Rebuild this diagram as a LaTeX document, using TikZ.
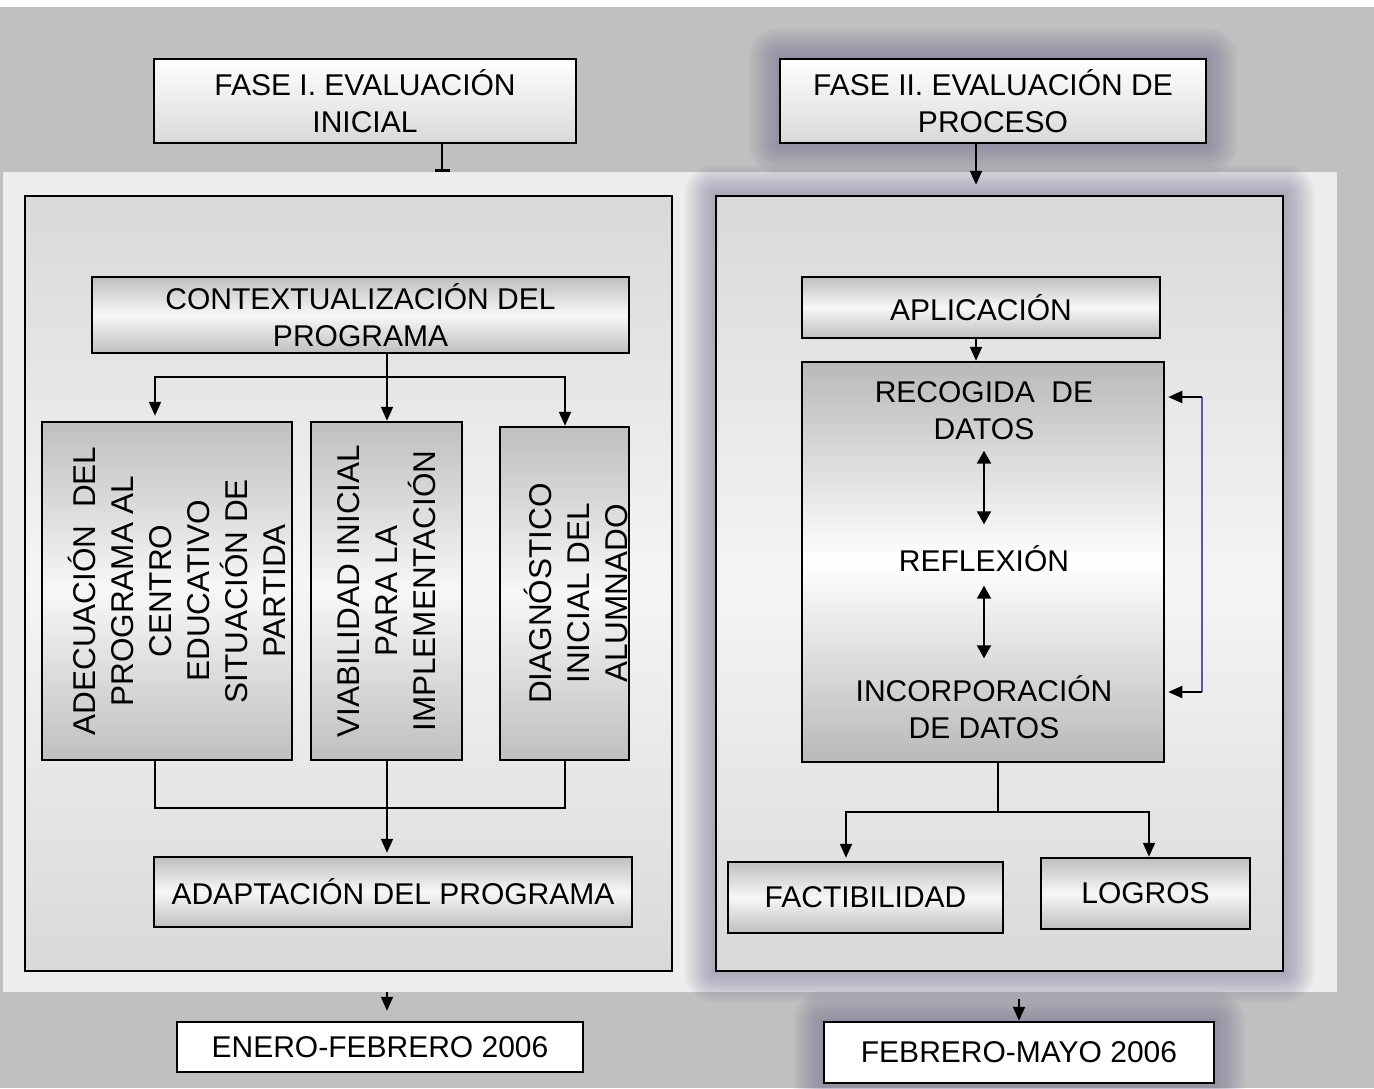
\documentclass[tikz,border=0pt]{standalone}
\usepackage{fontspec}
\setmainfont{Liberation Sans}
\usetikzlibrary{arrows.meta,positioning}
\pgfdeclarelayer{bg}
\pgfdeclarelayer{glow}
\pgfsetlayers{bg,glow,main}

\definecolor{pagegray}{RGB}{192,192,192}
\definecolor{panelgray}{RGB}{237,237,237}
\definecolor{glowcol}{RGB}{105,105,140}
\definecolor{loopblue}{RGB}{90,90,160}

\def\boxLine{2.5pt}
\def\linkLine{2pt}

\tikzset{
    hfont/.style = {font = \fontsize{30}{37}\selectfont},
    vfont/.style = {font = \fontsize{31.5}{38}\selectfont},
    frame/.style = {draw, line width = \boxLine, top color = gray!30,
        bottom color = gray!30, middle color = gray!8, inner sep = 0pt},
    phasebox/.style = {draw, line width = \boxLine, top color = white,
        bottom color = gray!30, hfont, align = center, inner sep = 0pt},
    datebox/.style = {draw, line width = \boxLine, fill = white, hfont,
        inner sep = 0pt},
    shadebox/.style = {draw, line width = \boxLine, top color = gray!50,
        bottom color = gray!50, middle color = gray!6, hfont,
        align = center, inner sep = 0pt},
    cyclebox/.style = {draw, line width = \boxLine, top color = gray!55,
        bottom color = gray!55, middle color = white, inner sep = 0pt},
    txt/.style = {hfont, align = center},
    vtxt/.style = {vfont, align = center, rotate = 90},
    link/.style = {line width = \linkLine},
    arr/.style = {link, -{Triangle[length = 14pt, width = 12pt]}},
    dblarr/.style = {link, {Triangle[length = 13pt, width = 14pt]}-{Triangle[length = 13pt, width = 14pt]}},
    bararr/.style = {link, -{Bar[width = 15pt, line width = 2.5pt]}},
}

\begin{document}
\begin{tikzpicture}[x = 1pt, y = -1pt]
    \useasboundingbox (0,0) rectangle (1374,1088);
    %% background
    \begin{pgfonlayer}{bg}
        \fill [pagegray] (0,0) rectangle (1374,1088);
        \fill [white] (0,0) rectangle (1374,7);
        \node [fill = panelgray, inner sep = 0pt, minimum width = 1334pt,
            minimum height = 820pt] (panel) at (670,582) {};
    \end{pgfonlayer}

    %% phase I
    \node [phasebox, minimum width = 422pt, minimum height = 84pt]
    (phase1) at (365,101) {FASE I. EVALUACIÓN\\INICIAL};
    \node [frame, minimum width = 647pt, minimum height = 775pt]
    (frameL) at (348.5,583.5) {};
    \node [shadebox, minimum width = 537pt, minimum height = 76pt]
    (context) at (360.5,315) {CONTEXTUALIZACIÓN DEL\\PROGRAMA};
    \node [shadebox, minimum width = 250pt, minimum height = 338pt]
    (adec) at (167,591) {};
    \node [shadebox, minimum width = 151pt, minimum height = 338pt]
    (viab) at (386.5,591) {};
    \node [shadebox, minimum width = 129pt, minimum height = 333pt]
    (diag) at (564.5,593.5) {};
    \node [vtxt] (adectxt) at ([xshift = 10pt]adec.center)
    {ADECUACIÓN\ \ DEL\\PROGRAMA AL\\CENTRO\\EDUCATIVO\\SITUACIÓN DE\\PARTIDA};
    \node [vtxt] (viabtxt) at (viab.center)
    {VIABILIDAD INICIAL\\PARA LA\\IMPLEMENTACIÓN};
    \node [vtxt] (diagtxt) at ([xshift = 11pt]diag.center)
    {DIAGNÓSTICO\\INICIAL DEL\\ALUMNADO};
    \node [shadebox, minimum width = 478pt, minimum height = 70pt]
    (adapt) at (393,892) {ADAPTACIÓN DEL PROGRAMA};
    \node [datebox, minimum width = 406pt, minimum height = 50pt]
    (date1) at (380,1047) {ENERO-FEBRERO 2006};

    %% phase II
    \node [phasebox, minimum width = 426pt, minimum height = 84pt]
    (phase2) at (993,101) {FASE II. EVALUACIÓN DE\\PROCESO};
    \node [frame, minimum width = 567pt, minimum height = 775pt]
    (frameR) at (999.5,583.5) {};
    \node [shadebox, minimum width = 358pt, minimum height = 61pt]
    (apply) at (981,307.5) {APLICACIÓN};
    \node [cyclebox, minimum width = 362pt, minimum height = 400pt]
    (cycle) at (983,562) {};
    \node [txt] (collect) at (984,411) {RECOGIDA\ \ DE\\DATOS};
    \node [txt] (reflect) at (984,559) {REFLEXIÓN};
    \node [txt] (incorp) at (984,707.5) {INCORPORACIÓN\\DE DATOS};
    \node [shadebox, minimum width = 275pt, minimum height = 71pt]
    (feasible) at (865.5,897.5) {FACTIBILIDAD};
    \node [shadebox, minimum width = 209pt, minimum height = 71pt]
    (achieve) at (1145.5,893.5) {LOGROS};
    \node [datebox, minimum width = 390pt, minimum height = 61pt]
    (date2) at (1019,1052.5) {FEBRERO-MAYO 2006};

    %% glow round phase II
    \begin{pgfonlayer}{glow}
        \foreach \g in {2.5,5,...,30} {
            \foreach \n in {phase2,frameR,date2} {
                \fill [glowcol, opacity = 0.05, rounded corners = \g pt]
                ([shift = {(-\g pt,\g pt)}]\n.north west)
                rectangle ([shift = {(\g pt,-\g pt)}]\n.south east);
            }
        }
    \end{pgfonlayer}

    %% taps
    \coordinate (tap1) at (442,0);
    \coordinate (tap2) at (976,0);
    \coordinate (colA) at (155,0);
    \coordinate (colC) at (565,0);
    \coordinate (colF) at (846,0);
    \coordinate (colL) at (1149,0);
    \coordinate (ctxsplit) at (387,377);
    \coordinate (adsplit) at (387,808);
    \coordinate (cysplit) at (998,812);
    \coordinate (fbtop) at (1202,397);
    \coordinate (fbbot) at (1202,692);

    %% left links
    \draw [bararr] (phase1.south -| tap1) -- (panel.north -| tap1);
    \draw [arr] (context.south -| ctxsplit) -- (viab.north -| ctxsplit);
    \draw [arr, shorten > = 5pt] (ctxsplit) -| (adec.north -| colA);
    \draw [arr] (ctxsplit) -| (diag.north -| colC);
    \draw [link] (adec.south -| colA) |- (adsplit);
    \draw [link] (diag.south -| colC) |- (adsplit);
    \draw [arr, shorten > = 3pt] (viab.south -| adsplit) -- (adapt.north -| adsplit);
    \draw [arr, shorten > = 10pt] (panel.south -| adsplit) -- (date1.north -| adsplit);

    %% right links
    \draw [arr, shorten > = 10pt] (phase2.south -| tap2) -- (frameR.north -| tap2);
    \draw [arr] (apply.south -| tap2) -- (cycle.north -| tap2);
    \draw [dblarr, shorten < = 7pt, shorten > = 18pt] (collect.south) -- (reflect.north);
    \draw [dblarr, shorten < = 10pt, shorten > = 14pt] (reflect.south) -- (incorp.north);
    \draw [loopblue, line width = 1.5pt] (fbtop) -- (fbbot);
    \draw [arr, shorten > = 3pt] (fbtop) -- (fbtop -| cycle.east);
    \draw [arr, shorten > = 3pt] (fbbot) -- (fbbot -| cycle.east);
    \draw [link] (cycle.south -| cysplit) -- (cysplit);
    \draw [arr, shorten > = 3pt] (cysplit) -| (feasible.north -| colF);
    \draw [arr] (cysplit) -| (achieve.north -| colL);
    \draw [arr, shorten < = 7pt] (panel.south -| date2.north) -- (date2.north);
\end{tikzpicture}
\end{document}
